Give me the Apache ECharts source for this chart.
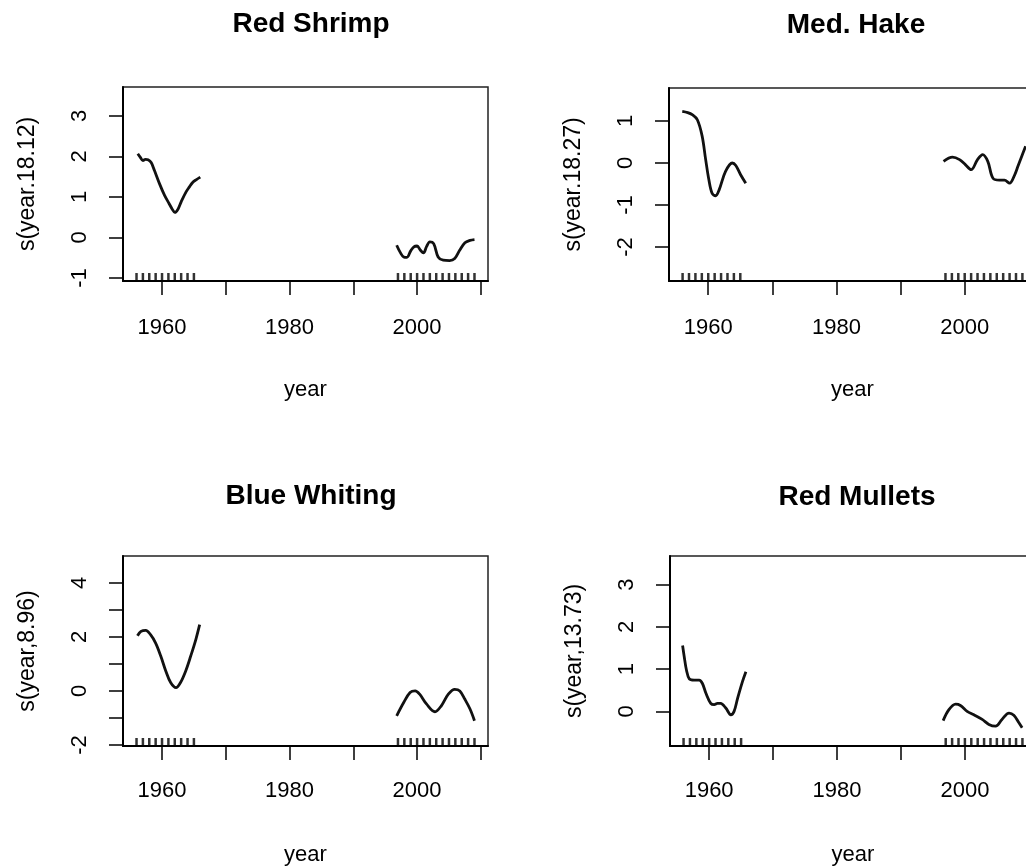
<!DOCTYPE html>
<html>
<head>
<meta charset="utf-8">
<script src="https://cdn.jsdelivr.net/npm/echarts@6/dist/echarts.min.js"></script>
<style>
html, body { margin: 0; padding: 0; overflow: hidden; background: #fff; }
#view { width: 1050px; height: 867px; }
</style>
</head>
<body>
<div id="view"></div>
<script>
var myChart = echarts.init(document.getElementById('view'));

// panel texts
var titles = ['Red Shrimp', 'Med. Hake', 'Blue Whiting', 'Red Mullets'];
var yNames = ['s(year.18.12)', 's(year.18.27)', 's(year,8.96)', 's(year,13.73)'];

// axis ticks / labels
var xTicks = [1960, 1970, 1980, 1990, 2000, 2010];
var xLabels = [1960, 1980, 2000];
var yTicks = [[-1, 0, 1, 2, 3], [-2, -1, 0, 1], [-2, -1, 0, 1, 2, 3, 4], [0, 1, 2, 3]];
var yLabels = [[-1, 0, 1, 2, 3], [-2, -1, 0, 1], [-2, 0, 2, 4], [0, 1, 2, 3]];
var yMin = [-1.074, -2.81, -2.037, -0.82];
var yMax = [3.716, 1.786, 4.99, 3.68];

// observed years (rug)
var rugYears = [1956, 1957, 1958, 1959, 1960, 1961, 1962, 1963, 1964, 1965,
    1997, 1998, 1999, 2000, 2001, 2002, 2003, 2004, 2005, 2006, 2007, 2008, 2009];

// Red Shrimp
var shrimpYearsA = [1956.2, 1956.6, 1957.0, 1957.4, 1957.8, 1958.3, 1958.8, 1959.6, 1960.4, 1961.1, 1961.6, 1962.0, 1962.5, 1963.0, 1963.75, 1964.3, 1964.8, 1965.4, 1966.0];
var shrimpA = [2.07, 1.98, 1.90, 1.93, 1.92, 1.85, 1.66, 1.33, 1.04, 0.84, 0.70, 0.62, 0.70, 0.88, 1.12, 1.25, 1.36, 1.43, 1.49];
var shrimpYearsB = [1996.8, 1997.4, 1997.9, 1998.4, 1999.0, 1999.5, 2000.0, 2000.5, 2001.0, 2001.5, 2002.0, 2002.6, 2003.3, 2004.1, 2005.1, 2005.9, 2006.7, 2007.5, 2008.3, 2009.0];
var shrimpB = [-0.19, -0.38, -0.48, -0.49, -0.33, -0.23, -0.21, -0.31, -0.38, -0.22, -0.11, -0.15, -0.48, -0.56, -0.57, -0.52, -0.31, -0.13, -0.07, -0.05];

// Med. Hake
var hakeYearsA = [1955.95, 1956.8, 1957.5, 1958.3, 1959.05, 1959.6, 1960.1, 1960.6, 1961.15, 1961.7, 1962.7, 1963.75, 1964.3, 1965.05, 1965.85];
var hakeA = [1.23, 1.20, 1.15, 1.03, 0.64, 0.08, -0.40, -0.72, -0.78, -0.64, -0.20, 0.0, -0.06, -0.28, -0.48];
var hakeYearsB = [1996.7, 1998.1, 1999.2, 2000.1, 2001.0, 2002.0, 2002.8, 2003.6, 2004.4, 2005.4, 2006.2, 2007.0, 2007.8, 2008.3, 2008.9, 2009.5];
var hakeB = [0.04, 0.14, 0.08, -0.04, -0.16, 0.08, 0.20, 0.04, -0.36, -0.41, -0.41, -0.48, -0.28, -0.08, 0.16, 0.40];

// Blue Whiting
var whitingYearsA = [1956.15, 1956.7, 1957.45, 1958.2, 1959.0, 1959.8, 1960.6, 1961.35, 1962.2, 1962.9, 1963.7, 1964.5, 1965.3, 1965.9];
var whitingA = [2.04, 2.20, 2.24, 2.08, 1.77, 1.29, 0.73, 0.31, 0.12, 0.31, 0.73, 1.29, 1.90, 2.45];
var whitingYearsB = [1996.8, 1997.9, 1998.9, 1999.7, 2000.4, 2001.5, 2002.8, 2003.8, 2004.9, 2005.9, 2006.7, 2007.5, 2008.3, 2009.0];
var whitingB = [-0.92, -0.43, -0.06, 0.0, -0.12, -0.49, -0.77, -0.55, -0.12, 0.06, 0.0, -0.31, -0.67, -1.10];

// Red Mullets
var mulletYearsA = [1955.85, 1956.1, 1956.45, 1956.9, 1957.65, 1958.45, 1958.95, 1959.5, 1960.25, 1960.8, 1961.3, 1961.8, 1962.6, 1963.4, 1963.9, 1964.45, 1965.2, 1965.75];
var mulletA = [1.56, 1.30, 0.98, 0.77, 0.74, 0.74, 0.66, 0.43, 0.19, 0.16, 0.19, 0.19, 0.08, -0.08, 0.0, 0.31, 0.70, 0.94];
var mulletYearsB = [1996.6, 1997.5, 1998.55, 1999.3, 2000.35, 2001.4, 2002.7, 2003.75, 2004.8, 2005.8, 2006.9, 2007.65, 2008.45, 2008.95];
var mulletB = [-0.22, 0.04, 0.17, 0.14, 0.0, -0.08, -0.19, -0.31, -0.35, -0.19, -0.04, -0.09, -0.27, -0.39];

var curves = [
    [[shrimpYearsA, shrimpA], [shrimpYearsB, shrimpB]],
    [[hakeYearsA, hakeA], [hakeYearsB, hakeB]],
    [[whitingYearsA, whitingA], [whitingYearsB, whitingB]],
    [[mulletYearsA, mulletA], [mulletYearsB, mulletB]]
];

var font = "'Liberation Sans', Arial, sans-serif";
var grids = [
    { left: 123, top: 87, width: 365, height: 194 },
    { left: 669, top: 88, width: 367, height: 193 },
    { left: 123, top: 556, width: 365, height: 192 },
    { left: 670, top: 556, width: 366, height: 192 }
];
var titlePos = [[306, 5], [851, 6], [306, 477], [852, 478]];
var xLabelMargin = [36, 36, 34, 34];

function pairs(xs, ys) {
    var out = [];
    for (var i = 0; i < xs.length; i++) out.push([xs[i], ys[i]]);
    return out;
}

var title = [], xAxis = [], yAxis = [], series = [];
for (var p = 0; p < 4; p++) {
    grids[p].show = true;
    grids[p].borderColor = '#222';
    grids[p].borderWidth = 1.5;
    grids[p].containLabel = false;

    title.push({
        text: titles[p],
        left: titlePos[p][0],
        top: titlePos[p][1],
        textAlign: 'center',
        textStyle: { fontFamily: font, fontSize: 28, fontWeight: 'bold', color: '#000' }
    });

    xAxis.push({
        type: 'value',
        gridIndex: p,
        min: 1953.88,
        max: 2011.12,
        name: 'year',
        nameLocation: 'middle',
        nameGap: 98,
        nameTextStyle: { fontFamily: font, fontSize: 22, color: '#000' },
        axisLine: { onZero: false, lineStyle: { color: '#000', width: 2 } },
        axisTick: { show: true, customValues: xTicks, length: 14, lineStyle: { color: '#000', width: 1.5 } },
        axisLabel: {
            customValues: xLabels, margin: xLabelMargin[p], fontFamily: font, fontSize: 22, color: '#000',
            formatter: function (v) { return String(v); }
        },
        splitLine: { show: false }
    });

    yAxis.push({
        type: 'value',
        gridIndex: p,
        min: yMin[p],
        max: yMax[p],
        name: yNames[p],
        nameLocation: 'middle',
        nameRotate: 90,
        nameGap: 84,
        nameTextStyle: { fontFamily: font, fontSize: 23, color: '#000' },
        axisLine: { show: true, onZero: false, lineStyle: { color: '#000', width: 2 } },
        axisTick: { show: true, customValues: yTicks[p], length: 14, lineStyle: { color: '#000', width: 1.5 } },
        axisLabel: {
            customValues: yLabels[p], rotate: 90, margin: 32, fontFamily: font, fontSize: 22, color: '#000',
            formatter: function (v) { return String(v); }
        },
        splitLine: { show: false }
    });

    for (var c = 0; c < 2; c++) {
        series.push({
            type: 'line',
            xAxisIndex: p,
            yAxisIndex: p,
            data: pairs(curves[p][c][0], curves[p][c][1]),
            smooth: 0.35,
            showSymbol: false,
            symbol: 'none',
            lineStyle: { color: '#111', width: 2.8 },
            silent: true
        });
    }

    var rug = [];
    for (var r = 0; r < rugYears.length; r++) rug.push([rugYears[r], yMin[p]]);
    series.push({
        type: 'scatter',
        xAxisIndex: p,
        yAxisIndex: p,
        data: rug,
        symbol: 'rect',
        symbolSize: [2.5, 8],
        symbolOffset: [0, -4],
        itemStyle: { color: '#000' },
        clip: false,
        silent: true
    });
}

var option = {
    backgroundColor: '#fff',
    animation: false,
    title: title,
    grid: grids,
    xAxis: xAxis,
    yAxis: yAxis,
    series: series
};

myChart.setOption(option);
</script>
</body>
</html>
